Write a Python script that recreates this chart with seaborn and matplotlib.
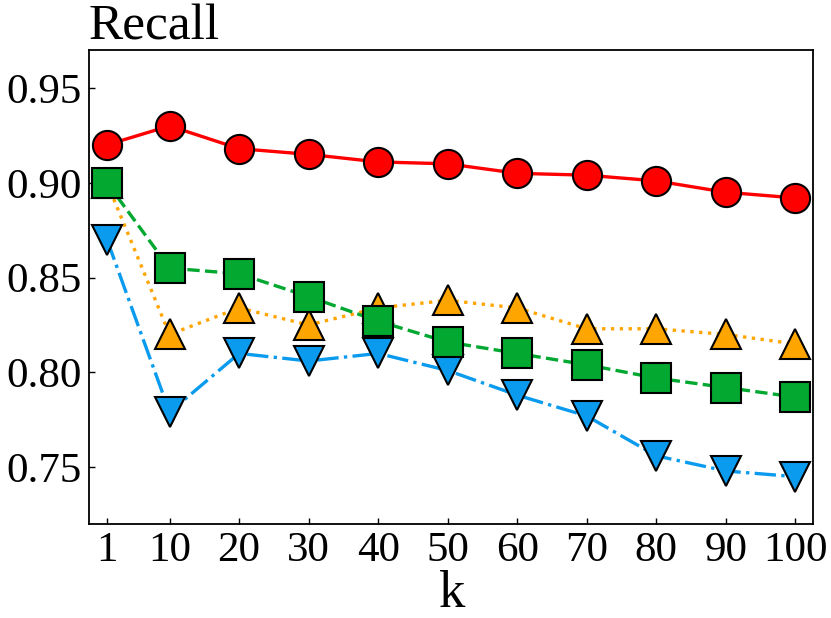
import numpy as np
import matplotlib
matplotlib.use("Agg")
import matplotlib.pyplot as plt
import seaborn as sns

k = [1, 10, 20, 30, 40, 50, 60, 70, 80, 90, 100]
recall_red = [0.920, 0.930, 0.918, 0.915, 0.911, 0.910, 0.905, 0.904, 0.901, 0.895, 0.892]
recall_orange = [0.900, 0.820, 0.834, 0.825, 0.834, 0.838, 0.834, 0.823, 0.823, 0.820, 0.815]
recall_blue = [0.870, 0.779, 0.810, 0.806, 0.810, 0.801, 0.788, 0.777, 0.756, 0.748, 0.745]
recall_green = [0.900, 0.855, 0.852, 0.840, 0.827, 0.816, 0.810, 0.804, 0.797, 0.792, 0.787]
yticks = [0.75, 0.80, 0.85, 0.90, 0.95]
xticks = k

sns.set_style("ticks")
plt.rcParams['font.family'] = ['Liberation Serif', 'DejaVu Serif']
plt.rcParams['text.color'] = 'black'
plt.rcParams['axes.labelcolor'] = 'black'
plt.rcParams['xtick.color'] = 'black'
plt.rcParams['ytick.color'] = 'black'

fig = plt.figure(figsize=(8.31, 6.18), dpi=100)
ax = fig.add_axes([0.107, 0.152, 0.871, 0.767])

styles = [
    (recall_red, '#ff0000', 'o', '-'),
    (recall_orange, '#ffa500', '^', ':'),
    (recall_blue, '#0a9bef', 'v', '-.'),
    (recall_green, '#02a830', 's', '--'),
]
for vals, col, mk, ls in styles:
    sns.lineplot(x=k, y=vals, ax=ax, color=col, marker=mk, linestyle=ls,
                 linewidth=2.4, markersize=21, markeredgecolor='black',
                 markeredgewidth=1.5, markerfacecolor=col)

ax.set_xlim(-1.6, 102.5)
ax.set_ylim(0.72, 0.97)
ax.set_xticks(xticks)
ax.set_xticklabels([str(v) for v in xticks])
ax.set_yticks(yticks)
ax.set_yticklabels([f"{v:.2f}" for v in yticks])
ax.tick_params(direction='in', length=4, width=1, labelsize=31, pad=5,
               top=False, right=False, colors='black')
for sp in ax.spines.values():
    sp.set_linewidth(1.3)
    sp.set_color('black')

ax.set_xlabel("k", fontsize=38, labelpad=0, color='black')
ax.set_title("Recall", loc='left', fontsize=37, pad=6, color='black')

fig.savefig("out.png", dpi=100)
